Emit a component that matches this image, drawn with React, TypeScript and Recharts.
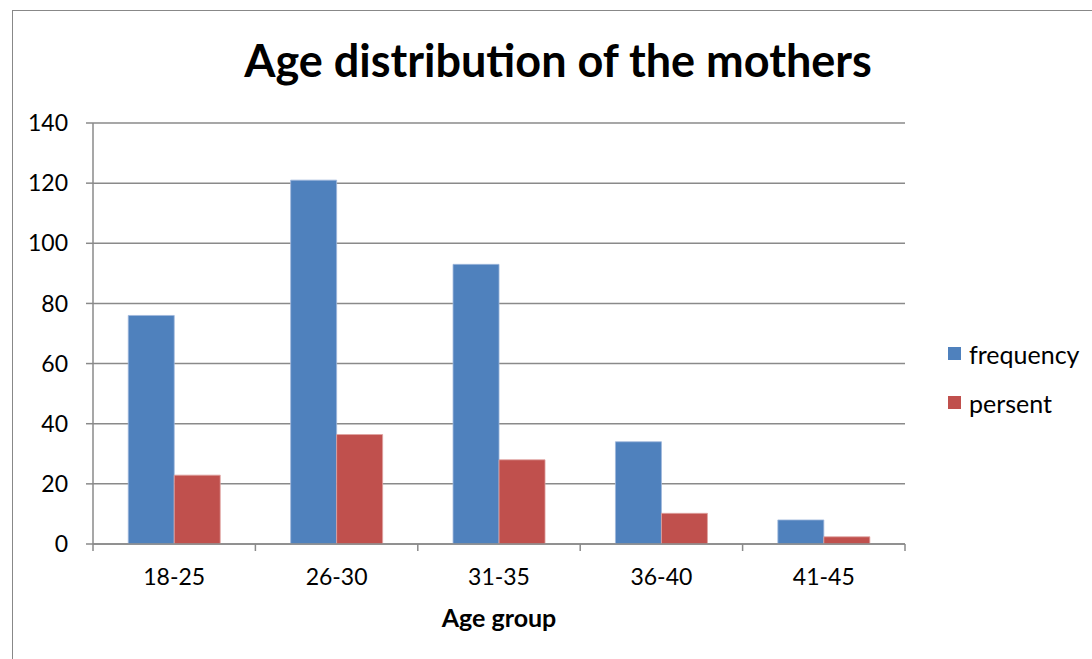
import { Bar, BarChart, CartesianGrid, Legend, XAxis, YAxis } from "recharts";

const ageGroups = ["18-25", "26-30", "31-35", "36-40", "41-45"];
const frequency = [76, 121, 93, 34, 8];
const persent = [22.9, 36.4, 28.0, 10.2, 2.4];
const yTicks = [0, 20, 40, 60, 80, 100, 120, 140];

const data = ageGroups.map((group, i) => ({
  group,
  frequency: frequency[i],
  persent: persent[i],
}));

const FONT = "Lato, 'Open Sans', sans-serif";
const GRID = "#8a8a8a";
const BLUE = "#4F81BD";
const RED = "#C0504D";

const legendItems = [
  { name: "frequency", color: BLUE },
  { name: "persent", color: RED },
];

function CategoryTick(props: any) {
  const { x, y, payload, index } = props;
  const half = payload && payload.offset ? payload.offset : 81.2;
  const top = y - 18 - 7;
  const last = index === ageGroups.length - 1;
  return (
    <g>
      <line x1={x - half} x2={x - half} y1={top} y2={top + 7} stroke={GRID} strokeWidth={1.5} />
      {last && <line x1={x + half} x2={x + half} y1={top} y2={top + 7} stroke={GRID} strokeWidth={1.5} />}
      <text x={x} y={y} dy="0.71em" textAnchor="middle" fontSize={23} fontFamily={FONT} fill="#000">
        {payload.value}
      </text>
    </g>
  );
}

function LegendBox() {
  return (
    <div style={{ fontFamily: FONT, fontSize: 25, color: "#000" }}>
      {legendItems.map((item) => (
        <div key={item.name} style={{ display: "flex", alignItems: "center", height: 49 }}>
          <div style={{ width: 13, height: 13, background: item.color, marginRight: 8 }} />
          <span>{item.name}</span>
        </div>
      ))}
    </div>
  );
}

export default function App() {
  return (
    <div style={{ position: "absolute", left: 0, top: 0, width: 1092, height: 659, overflow: "hidden", background: "#fff" }}>
      <div
        style={{
          position: "absolute",
          left: 12,
          top: 10,
          width: 1200,
          height: 800,
          border: "1.5px solid #888",
        }}
      />
      <div
        style={{
          position: "absolute",
          left: 0,
          width: 1116,
          top: 33,
          textAlign: "center",
          fontFamily: FONT,
          fontWeight: 700,
          fontSize: 45,
          color: "#000",
        }}
      >
        Age distribution of the mothers
      </div>
      <div style={{ position: "absolute", left: 0, top: 0 }}>
        <BarChart
          width={1092}
          height={659}
          data={data}
          margin={{ top: 123, right: 187, bottom: 35, left: 0 }}
          barCategoryGap="21.7%"
          barGap={0}
        >
          <CartesianGrid vertical={false} stroke={GRID} strokeWidth={1.5} />
          <XAxis
            dataKey="group"
            height={80}
            tickSize={7}
            tickMargin={18}
            tickLine={false}
            axisLine={{ stroke: GRID, strokeWidth: 1.5 }}
            tick={<CategoryTick />}
            interval={0}
            label={{
              value: "Age group",
              position: "insideBottom",
              offset: -3,
              fontFamily: FONT,
              fontWeight: 700,
              fontSize: 25,
              fill: "#000",
            }}
          />
          <YAxis
            width={93}
            domain={[0, 140]}
            ticks={yTicks}
            tickSize={7}
            tickMargin={18}
            tickLine={{ stroke: GRID, strokeWidth: 1.5 }}
            axisLine={{ stroke: GRID, strokeWidth: 1.5 }}
            tick={{ fontFamily: FONT, fontSize: 23, fill: "#000" }}
          />
          <Legend
            layout="horizontal"
            align="center"
            verticalAlign="middle"
            content={() => <LegendBox />}
            wrapperStyle={{ position: "absolute", left: 948, top: 329, width: 144 }}
          />
          <Bar dataKey="frequency" fill={BLUE} stroke="#9fb8dc" strokeWidth={0.8} isAnimationActive={false} />
          <Bar dataKey="persent" fill={RED} stroke="#e0a3a1" strokeWidth={0.8} isAnimationActive={false} />
        </BarChart>
      </div>
    </div>
  );
}
